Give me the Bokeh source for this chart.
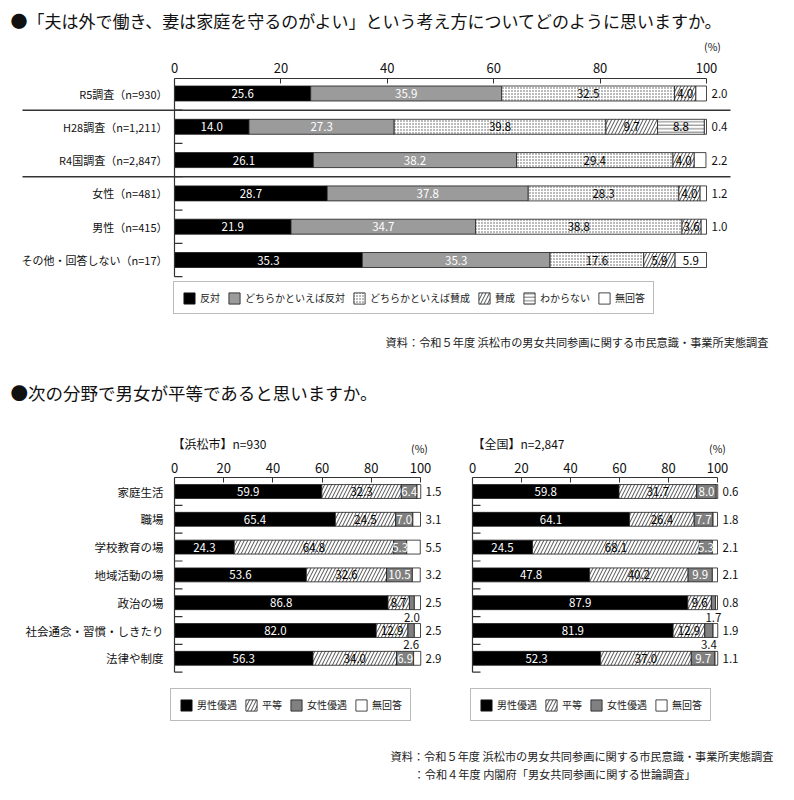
import numpy as np
from bokeh.plotting import figure
from bokeh.models import Range1d, FixedTicker, Legend, LegendItem, Label
from bokeh.layouts import column, row
from bokeh.embed import file_html
from bokeh.resources import INLINE
from bokeh.core.properties import value

JP = "Noto Sans CJK JP"

# ---------------- data: question 1 ----------------
q1_title = "●「夫は外で働き、妻は家庭を守るのがよい」という考え方についてどのように思いますか。"
q1_groups = ["R5調査（n=930）", "H28調査（n=1,211）", "R4国調査（n=2,847）",
             "女性（n=481）", "男性（n=415）", "その他・回答しない（n=17）"]
q1_series = ["反対", "どちらかといえば反対", "どちらかといえば賛成", "賛成", "わからない", "無回答"]
q1_oppose = [25.6, 14.0, 26.1, 28.7, 21.9, 35.3]
q1_rather_oppose = [35.9, 27.3, 38.2, 37.8, 34.7, 35.3]
q1_rather_agree = [32.5, 39.8, 29.4, 28.3, 38.8, 17.6]
q1_agree = [4.0, 9.7, 4.0, 4.0, 3.6, 5.9]
q1_unknown = [0.0, 8.8, 0.0, 0.0, 0.0, 0.0]
q1_noanswer = [2.0, 0.4, 2.2, 1.2, 1.0, 5.9]
q1_source = "資料：令和５年度 浜松市の男女共同参画に関する市民意識・事業所実態調査"

x_ticks = [0, 20, 40, 60, 80, 100]
pct_label = "(%)"

# ---------------- data: question 2 ----------------
q2_title = "●次の分野で男女が平等であると思いますか。"
q2_fields = ["家庭生活", "職場", "学校教育の場", "地域活動の場", "政治の場",
             "社会通念・習慣・しきたり", "法律や制度"]
q2_series = ["男性優遇", "平等", "女性優遇", "無回答"]
hama_label = "【浜松市】n=930"
hama_male = [59.9, 65.4, 24.3, 53.6, 86.8, 82.0, 56.3]
hama_equal = [32.3, 24.5, 64.8, 32.6, 8.7, 12.9, 34.0]
hama_female = [6.4, 7.0, 5.3, 10.5, 2.0, 2.6, 6.9]
hama_noanswer = [1.5, 3.1, 5.5, 3.2, 2.5, 2.5, 2.9]
nat_label = "【全国】n=2,847"
nat_male = [59.8, 64.1, 24.5, 47.8, 87.9, 81.9, 52.3]
nat_equal = [31.7, 26.4, 68.1, 40.2, 9.6, 12.9, 37.0]
nat_female = [8.0, 7.7, 5.3, 9.9, 1.7, 3.4, 9.7]
nat_noanswer = [0.6, 1.8, 2.1, 2.1, 0.8, 1.9, 1.1]
source_lines = ["資料：令和５年度 浜松市の男女共同参画に関する市民意識・事業所実態調査",
                "：令和４年度 内閣府「男女共同参画に関する世論調査」"]

# ---------------- styles ----------------
DOT = dict(hatch="dot", hcolor="#555555", hscale=3.0, hweight=1.0)
DIAG = dict(hatch="right_diagonal_line", hcolor="#222222", hscale=7.0, hweight=0.8)
HORZ = dict(hatch="horizontal_line", hcolor="#777777", hscale=3.5, hweight=1.0)
q1_styles = [
    dict(fill="#000000", text="white"),
    dict(fill="#9b9b9b", text="white"),
    dict(fill="white", text="black", **DOT),
    dict(fill="white", text="black", **DIAG),
    dict(fill="white", text="black", **HORZ),
    dict(fill="white", text="black"),
]
q2_styles = [
    dict(fill="#000000", text="white"),
    dict(fill="white", text="black", **DIAG),
    dict(fill="#808080", text="white"),
    dict(fill="white", text="black"),
]

W = 792


def x_range_for(page_left, width, page_zero, page_hundred):
    scale = (page_hundred - page_zero) / 100.0
    start = -(page_zero - page_left) / scale
    return Range1d(start, start + width / scale), scale


def text_fig(width, height):
    p = figure(width=width, height=height, x_range=Range1d(0, width),
               y_range=Range1d(height, 0), x_axis_location=None, y_axis_location=None,
               output_backend="svg", toolbar_location=None, min_border=0)
    p.outline_line_color = None
    p.grid.visible = False
    return p


def put_text(p, x, y, text, size, align="left", color="#111111"):
    p.text(x=[x], y=[y], text=[text], text_color=color, text_align=align,
           text_baseline="middle", text_font=value(JP), text_font_size=size)


def base_fig(width, height, xr, yr, top_border, standoff):
    p = figure(width=width, height=height, x_range=xr, y_range=yr,
               x_axis_location="above", y_axis_location=None,
               output_backend="svg", toolbar_location=None,
               min_border_left=0, min_border_right=0, min_border_bottom=0,
               min_border_top=top_border)
    p.outline_line_color = None
    p.grid.visible = False
    ax = p.xaxis[0]
    ax.ticker = FixedTicker(ticks=x_ticks)
    ax.bounds = (x_ticks[0], x_ticks[-1])
    ax.major_tick_in = 5
    ax.major_tick_out = 0
    ax.minor_tick_in = 0
    ax.minor_tick_out = 0
    ax.axis_line_color = "#333333"
    ax.major_tick_line_color = "#333333"
    ax.major_label_text_font = JP
    ax.major_label_text_font_size = "13px"
    ax.major_label_text_color = "#111111"
    ax.major_label_standoff = standoff
    return p


def draw_stack(p, series, styles, height):
    n = len(series[0])
    rows = np.arange(n)
    left = np.zeros(n)
    rends, segs = [], []
    for vals, st in zip(series, styles):
        v = np.asarray(vals, dtype=float)
        right = left + v
        m = v > 0
        kw = dict(fill_color=st["fill"], line_color="#1a1a1a", line_width=0.8)
        if "hatch" in st:
            kw.update(hatch_pattern=st["hatch"], hatch_color=st["hcolor"],
                      hatch_scale=st["hscale"], hatch_weight=st["hweight"])
        r = p.hbar(y=rows[m], left=left[m], right=right[m], height=height, **kw)
        rends.append(r)
        segs.append((left.copy(), right.copy(), v))
        left = right
    return rends, segs


def left_axis(p, n, tick_len, top):
    p.segment(x0=[0], y0=[top], x1=[0], y1=[n - 0.5], line_color="#333333", line_width=1.2)
    b = np.arange(n) + 0.5
    p.segment(x0=np.zeros(n), y0=b, x1=np.full(n, tick_len), y1=b,
              line_color="#333333", line_width=1.2)


def add_legend(p, names, rends, loc):
    leg = Legend(items=[LegendItem(label=nm, renderers=[r]) for nm, r in zip(names, rends)],
                 location=loc, orientation="horizontal", glyph_width=14, glyph_height=14,
                 label_height=14, label_text_font=JP, label_text_font_size="10px",
                 label_text_color="#222222", label_standoff=4, spacing=7, padding=8,
                 margin=0, border_line_color="#777777", border_line_width=1.5,
                 background_fill_color="white", background_fill_alpha=1.0)
    p.add_layout(leg, "center")


# ================= header 1 =================
HH1 = 56
h1 = text_fig(W, HH1)
put_text(h1, 10, 20, q1_title, "17px")
put_text(h1, 712, 46, pct_label, "10.5px", align="center")

# ================= top chart =================
P1_TOP, P1_BOT = HH1, 380
FRAME1_TOP = 78
xr1, s1 = x_range_for(0, W, 174, 706)
row1 = 33.3
yr1 = Range1d((P1_BOT - 93) / row1, (FRAME1_TOP - 93) / row1)
p1 = base_fig(W, P1_BOT - P1_TOP, xr1, yr1, FRAME1_TOP - P1_TOP, 6)

q1_vals = [q1_oppose, q1_rather_oppose, q1_rather_agree, q1_agree, q1_unknown, q1_noanswer]
rends1, segs1 = draw_stack(p1, q1_vals, q1_styles, 0.45)
n1 = len(q1_groups)
left_axis(p1, n1, 8 / s1, yr1.end)

sep_y = [0.5, 2.5]
p1.segment(x0=[(22 - 174) / s1] * 2, y0=sep_y, x1=[(730 - 174) / s1] * 2, y1=sep_y,
           line_color="#333333", line_width=1.5)

ix, iy, it, ic = [], [], [], []
ox, oy, ot = [], [], []
last = len(segs1) - 1
for si, (l, r, v) in enumerate(segs1):
    for i in range(n1):
        if v[i] <= 0:
            continue
        if si == last and v[i] < 5:
            ox.append(100 + 5 / s1); oy.append(i); ot.append(f"{v[i]:.1f}")
        else:
            ix.append((l[i] + r[i]) / 2); iy.append(i); it.append(f"{v[i]:.1f}")
            ic.append(q1_styles[si]["text"])
p1.text(x=ix, y=iy, text=it, text_color=ic, text_align="center", text_baseline="middle",
        text_font=value(JP), text_font_size="11.5px")
p1.text(x=ox, y=oy, text=ot, text_color="#111111", text_align="left", text_baseline="middle",
        text_font=value(JP), text_font_size="11.5px")
p1.text(x=[-7 / s1] * n1, y=list(range(n1)), text=q1_groups, text_color="#111111",
        text_align="right", text_baseline="middle", text_font=value(JP), text_font_size="11px")

add_legend(p1, q1_series, rends1, (173, P1_BOT - 314))
p1.add_layout(Label(x=768, y=P1_BOT - 341, x_units="screen", y_units="screen", text=q1_source,
                    text_font=JP, text_font_size="11.2px", text_align="right",
                    text_baseline="middle", text_color="#222222"))

# ================= header 2 =================
H2_TOP, H2_BOT = P1_BOT, 456
h2 = text_fig(W, H2_BOT - H2_TOP)
put_text(h2, 10, 392 - H2_TOP, q2_title, "17.5px")
put_text(h2, 172, 443 - H2_TOP, hama_label, "12px")
put_text(h2, 472, 443 - H2_TOP, nat_label, "12px")
put_text(h2, 419, 448 - H2_TOP, pct_label, "10.5px", align="center")
put_text(h2, 717, 448 - H2_TOP, pct_label, "10.5px", align="center")

# ================= bottom charts =================
P2_TOP, P2_BOT = H2_BOT, 740
FRAME2_TOP = 477
row2 = 27.8
row0_2 = 491
n2 = len(q2_fields)


def bottom_chart(page_left, width, zero_px, hundred_px, vals, legend_x, with_cats):
    xr, s = x_range_for(page_left, width, zero_px, hundred_px)
    yr = Range1d((P2_BOT - row0_2) / row2, (FRAME2_TOP - row0_2) / row2)
    p = base_fig(width, P2_BOT - P2_TOP, xr, yr, FRAME2_TOP - P2_TOP, 5)
    rends, segs = draw_stack(p, vals, q2_styles, 0.5)
    left_axis(p, n2, 8 / s, yr.end)
    ix, iy, it, ic = [], [], [], []
    bx, by, bt = [], [], []
    ox, oy, ot = [], [], []
    for si, (l, r, v) in enumerate(segs):
        for i in range(n2):
            if v[i] <= 0:
                continue
            if si == 3:
                ox.append(100 + 5 / s); oy.append(i); ot.append(f"{v[i]:.1f}")
            elif si == 2 and v[i] < 5:
                bx.append((l[i] + r[i]) / 2); by.append(i + 0.52); bt.append(f"{v[i]:.1f}")
            else:
                ix.append((l[i] + r[i]) / 2); iy.append(i); it.append(f"{v[i]:.1f}")
                ic.append(q2_styles[si]["text"])
    p.text(x=ix, y=iy, text=it, text_color=ic, text_align="center", text_baseline="middle",
           text_font=value(JP), text_font_size="11.5px")
    p.text(x=bx, y=by, text=bt, text_color="#111111", text_align="center",
           text_baseline="middle", text_font=value(JP), text_font_size="11.5px")
    p.text(x=ox, y=oy, text=ot, text_color="#111111", text_align="left",
           text_baseline="middle", text_font=value(JP), text_font_size="11.5px")
    if with_cats:
        p.text(x=[-11 / s] * n2, y=list(range(n2)), text=q2_fields, text_color="#111111",
               text_align="right", text_baseline="middle", text_font=value(JP),
               text_font_size="11.5px")
    add_legend(p, q2_series, rends, (legend_x - page_left, P2_BOT - 721))
    return p


SPLIT = 450
p2 = bottom_chart(0, SPLIT, 174, 420, [hama_male, hama_equal, hama_female, hama_noanswer],
                  170, True)
p3 = bottom_chart(SPLIT, W - SPLIT, 472, 717, [nat_male, nat_equal, nat_female, nat_noanswer],
                  470, False)

# ================= footer =================
F_TOP, F_BOT = P2_BOT, 798
p4 = text_fig(W, F_BOT - F_TOP)
put_text(p4, 390, 755 - F_TOP, source_lines[0], "11.2px", color="#222222")
put_text(p4, 413, 773 - F_TOP, source_lines[1], "11.2px", color="#222222")

layout = column(h1, p1, h2, row(p2, p3), p4)
open("out.html", "w").write(file_html(layout, INLINE))
